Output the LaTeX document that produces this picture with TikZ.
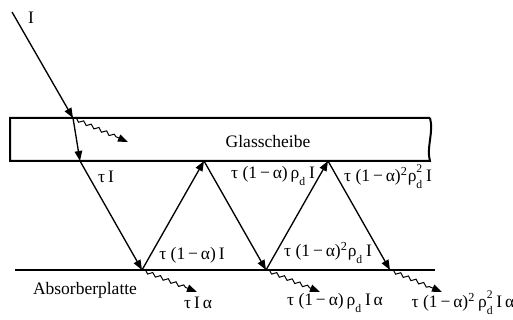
\documentclass[tikz,border=0pt]{standalone}
\usepackage{fontspec}
\setmainfont{Liberation Serif}
\usetikzlibrary{arrows.meta,decorations.pathmorphing}
\newcommand{\rhod}[1]{ρ$_{\raisebox{-1.5pt}{\scriptsize d}}^{\raisebox{1.5pt}{\scriptsize #1}}$}

\begin{document}
\begin{tikzpicture}[x=0.6pt,y=-0.6pt,font=\fontsize{10.5}{12}\selectfont,
  plate/.style={line width=1.2pt},
  ray/.style={line width=0.8pt,-{Triangle[length=6pt,width=4.5pt]}},
  wave/.style={line width=0.6pt,decorate,
               decoration={snake,amplitude=1pt,segment length=5pt,post length=6pt},
               -{Triangle[length=6pt,width=4.5pt]}},
  lbl/.style={inner sep=1pt}]
  \useasboundingbox (0,0) rectangle (513,320);
  % glass plate and absorber
  \draw[plate] (430,118) -- (10,118) -- (10,161) -- (430,161)
    .. controls (426,148) and (434,132) .. (430,118);
  \draw[plate] (15,270) -- (435,270);
  \node[lbl] (glas) at (268,142) {Glasscheibe};
  \node[lbl] (absorber) at (85,290) {Absorberplatte};
  % hit points
  \coordinate (s) at (12,12);
  \coordinate (g0) at (73,118);
  \coordinate (b1) at (80,161);
  \coordinate (a1) at (142,270);
  \coordinate (b2) at (204,161);
  \coordinate (a2) at (266,270);
  \coordinate (b3) at (328,161);
  \coordinate (a3) at (390,270);
  \coordinate (w0) at (128,142);
  \coordinate (w1) at (197,292);
  \coordinate (w2) at (320,292);
  \coordinate (w3) at (442,292);
  % rays
  \draw[ray] (s) -- (g0);
  \draw[ray] (g0) -- (b1);
  \draw[ray] (b1) -- (a1);
  \draw[ray] (a1) -- (b2);
  \draw[ray] (b2) -- (a2);
  \draw[ray] (a2) -- (b3);
  \draw[ray] (b3) -- (a3);
  \draw[wave] (g0) -- (w0);
  \draw[wave] (a1) -- (w1);
  \draw[wave] (a2) -- (w2);
  \draw[wave] (a3) -- (w3);
  % labels
  \node[lbl] (lI) at (31,18) {I};
  \node[lbl] (l1) at (106,177) {τ\,I};
  \node[lbl] (l2) at (273,176) {τ (1\,−\,α)\,\rhod{}\,I};
  \node[lbl] (l3) at (388,177) {τ (1\,−\,α)\textsuperscript{2}\rhod{2}\,I};
  \node[lbl] (l4) at (192,255) {τ (1\,−\,α)\,I};
  \node[lbl] (l5) at (328,253) {τ (1\,−\,α)\textsuperscript{2}\rhod{}\,I};
  \node[lbl] (l6) at (198,303) {τ\,I\,α};
  \node[lbl] (l7) at (335,303) {τ (1\,−\,α)\,\rhod{}\,I\,α};
  \node[lbl] (l8) at (463,303) {τ (1\,−\,α)\textsuperscript{2}\,\rhod{2}\,I\,α};
\end{tikzpicture}
\end{document}
